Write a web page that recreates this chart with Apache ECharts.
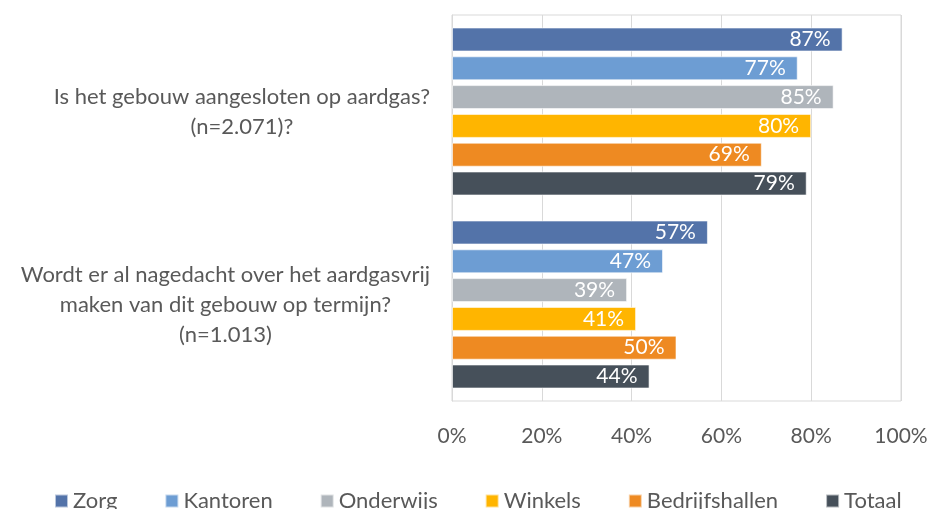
<!DOCTYPE html>
<html>
<head>
<meta charset="utf-8">
<script src="https://cdn.jsdelivr.net/npm/echarts@6/dist/echarts.min.js"></script>
<style>
  html, body { margin: 0; padding: 0; background: #fff; }
  #chart { width: 931px; height: 509px; }
</style>
</head>
<body>
<div id="chart"></div>
<script>
// vragen (categorieen), van boven naar onder
const categories = [
  'Is het gebouw aangesloten op aardgas?\n(n=2.071)?',
  'Wordt er al nagedacht over het aardgasvrij\nmaken van dit gebouw op termijn?\n(n=1.013)'
];
const seriesNames = ['Zorg', 'Kantoren', 'Onderwijs', 'Winkels', 'Bedrijfshallen', 'Totaal'];
const zorg = [87, 57];
const kantoren = [77, 47];
const onderwijs = [85, 39];
const winkels = [80, 41];
const bedrijfshallen = [69, 50];
const totaal = [79, 44];
const xTicks = [0, 20, 40, 60, 80, 100];

const colors = ['#5373a9', '#6d9dd3', '#afb5bb', '#ffb500', '#ee8a22', '#46505a'];
const values = [zorg, kantoren, onderwijs, winkels, bedrijfshallen, totaal];
const font = 'Lato';
const grey = '#595959';

const chart = echarts.init(document.getElementById('chart'));

chart.setOption({
  animation: false,
  grid: {
    left: 452,
    right: 30,
    top: 15,
    bottom: 108,
    show: true,
    borderColor: '#d9d9d9',
    borderWidth: 1
  },
  legend: {
    data: seriesNames,
    left: 49,
    top: 485,
    itemWidth: 13,
    itemHeight: 13,
    itemGap: 47,
    icon: 'rect',
    textStyle: { color: grey, fontSize: 22, fontFamily: font }
  },
  xAxis: {
    type: 'value',
    min: xTicks[0],
    max: xTicks[xTicks.length - 1],
    interval: 20,
    axisLine: { show: false },
    axisTick: { show: false },
    splitLine: { lineStyle: { color: '#d9d9d9', width: 1 } },
    axisLabel: {
      formatter: '{value}%',
      color: grey,
      fontSize: 21,
      fontFamily: font,
      margin: 25
    }
  },
  yAxis: {
    type: 'category',
    inverse: true,
    data: categories,
    axisLine: { lineStyle: { color: '#d9d9d9' } },
    axisTick: { show: false },
    axisLabel: {
      margin: 22,
      align: 'right',
      color: grey,
      fontSize: 22,
      fontFamily: font,
      lineHeight: 30,
      formatter: function (v) { return '{c|' + v.split('\n').join('}\n{c|') + '}'; },
      rich: {
        c: { align: 'center', color: grey, fontSize: 22, fontFamily: font, lineHeight: 30 }
      }
    }
  },
  series: seriesNames.map(function (name, i) {
    return {
      name: name,
      type: 'bar',
      data: values[i],
      barWidth: 24,
      barGap: '20%',
      itemStyle: { color: colors[i], borderColor: 'rgba(255,255,255,0.6)', borderWidth: 1 },
      label: {
        show: true,
        position: 'insideRight',
        distance: 12,
        formatter: '{c}%',
        color: '#fff',
        fontSize: 21,
        fontFamily: font
      }
    };
  })
});
</script>
</body>
</html>
